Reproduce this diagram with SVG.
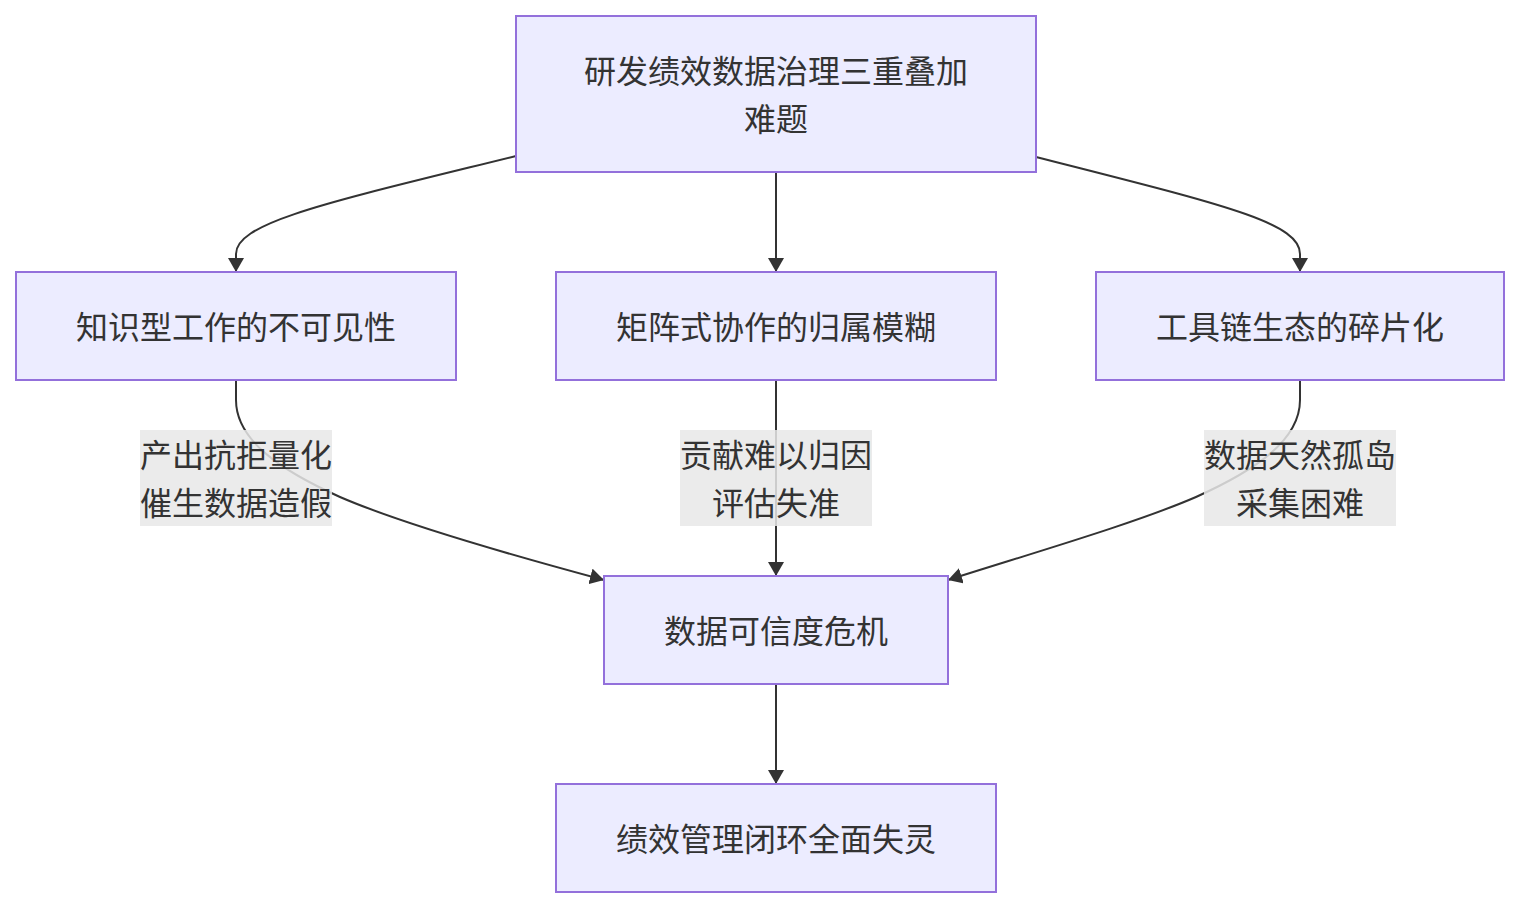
<svg xmlns="http://www.w3.org/2000/svg" width="1520" height="908" viewBox="0 0 1520 908">
<style>
.node rect{fill:#ECECFF;stroke:#9370DB;stroke-width:2}
.t{font-family:"Noto Sans CJK SC","Liberation Sans",sans-serif;font-size:32px;fill:#333;text-anchor:middle;dominant-baseline:central}
.e{fill:none;stroke:#333;stroke-width:2}
.lbl{fill:#e8e8e8;fill-opacity:0.85}
</style>
<defs>
<marker id="arr" viewBox="0 0 14 16" refX="14" refY="8" markerWidth="14" markerHeight="16" markerUnits="userSpaceOnUse" orient="auto">
<path d="M0,0 L14,8 L0,16 z" fill="#333"/>
</marker>
</defs>
<rect width="1520" height="908" fill="#fff"/>
<g id="connectors">
<path class="e" d="M516,156 C330,202 236,222 236,254 L236,272" marker-end="url(#arr)"/>
<path class="e" d="M776,172 L776,272" marker-end="url(#arr)"/>
<path class="e" d="M1036,157 C1220,204 1300,222 1300,254 L1300,272" marker-end="url(#arr)"/>
<path class="e" d="M236,380 L236,400 C236,440 280,470 340,497 C400,523 500,552 604,580" marker-end="url(#arr)"/>
<path class="e" d="M776,380 L776,576" marker-end="url(#arr)"/>
<path class="e" d="M1300,380 L1300,400 C1300,440 1256,470 1196,497 C1136,523 1036,552 948,580" marker-end="url(#arr)"/>
<path class="e" d="M776,684 L776,784" marker-end="url(#arr)"/>
</g>
<g id="label1">
<rect class="lbl" x="140" y="430" width="192" height="96"/>
<text class="t" x="236" y="453">产出抗拒量化</text>
<text class="t" x="236" y="501">催生数据造假</text>
</g>
<g id="label2">
<rect class="lbl" x="680" y="430" width="192" height="96"/>
<text class="t" x="776" y="453">贡献难以归因</text>
<text class="t" x="776" y="501">评估失准</text>
</g>
<g id="label3">
<rect class="lbl" x="1204" y="430" width="192" height="96"/>
<text class="t" x="1300" y="453">数据天然孤岛</text>
<text class="t" x="1300" y="501">采集困难</text>
</g>
<g id="A" class="node">
<rect x="516" y="16" width="520" height="156"/>
<text class="t" x="776" y="69">研发绩效数据治理三重叠加</text>
<text class="t" x="776" y="117">难题</text>
</g>
<g id="B" class="node">
<rect x="16" y="272" width="440" height="108"/>
<text class="t" x="236" y="325">知识型工作的不可见性</text>
</g>
<g id="C" class="node">
<rect x="556" y="272" width="440" height="108"/>
<text class="t" x="776" y="325">矩阵式协作的归属模糊</text>
</g>
<g id="D" class="node">
<rect x="1096" y="272" width="408" height="108"/>
<text class="t" x="1300" y="325">工具链生态的碎片化</text>
</g>
<g id="E" class="node">
<rect x="604" y="576" width="344" height="108"/>
<text class="t" x="776" y="629">数据可信度危机</text>
</g>
<g id="F" class="node">
<rect x="556" y="784" width="440" height="108"/>
<text class="t" x="776" y="837">绩效管理闭环全面失灵</text>
</g>
</svg>
